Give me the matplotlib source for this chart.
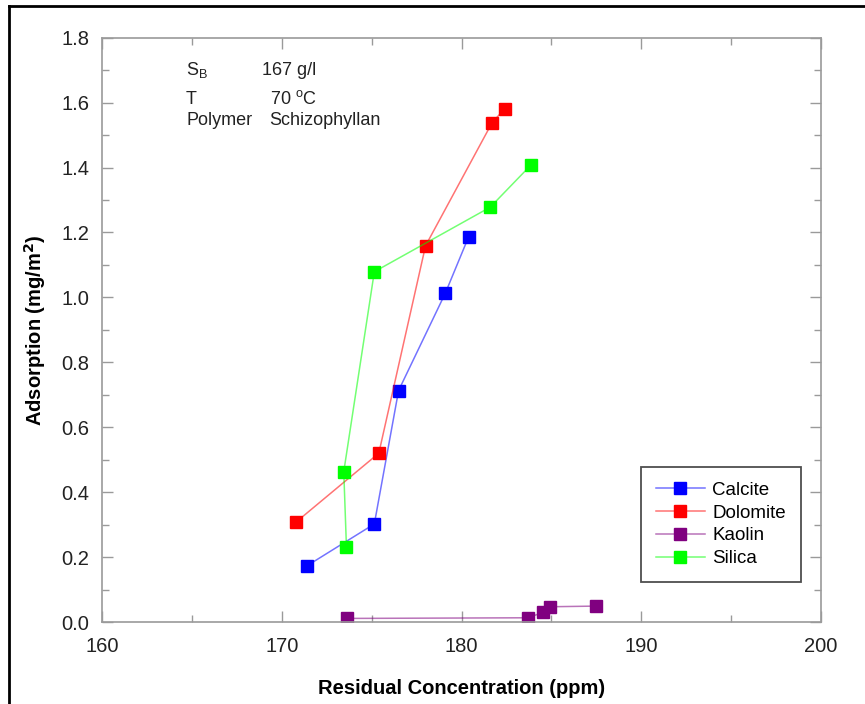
import matplotlib
matplotlib.use("Agg")
import matplotlib.pyplot as plt
from matplotlib.lines import Line2D
from matplotlib.ticker import MultipleLocator

plt.rcParams['font.family'] = ['Liberation Sans', 'DejaVu Sans']

# data (x: residual concentration ppm, y: adsorption mg/m2)
calcite_x = [171.4, 175.15, 176.5, 179.1, 180.4]
calcite_y = [0.173, 0.302, 0.713, 1.013, 1.187]

dolomite_x = [170.8, 175.4, 178.0, 181.7, 182.4]
dolomite_y = [0.308, 0.520, 1.159, 1.538, 1.581]

kaolin_x = [173.65, 183.7, 184.55, 184.95, 187.5]
kaolin_y = [0.011, 0.013, 0.030, 0.047, 0.049]

silica_x = [173.6, 173.45, 175.15, 181.6, 183.85]
silica_y = [0.230, 0.463, 1.079, 1.278, 1.407]

series = [
    ("Calcite", calcite_x, calcite_y, (0, 0, 1)),
    ("Dolomite", dolomite_x, dolomite_y, (1, 0, 0)),
    ("Kaolin", kaolin_x, kaolin_y, (0.5, 0, 0.5)),
    ("Silica", silica_x, silica_y, (0, 1, 0)),
]

fig = plt.figure(figsize=(8.65, 7.04), dpi=100)
ax = fig.add_axes([102/865, 1 - 622/704, 719/865, 584.3/704])

for name, xs, ys, c in series:
    ax.plot(xs, ys, color=c + (0.55,), lw=1.1, marker='s', markersize=8.5,
            markerfacecolor=c, markeredgecolor=c, label=name)

ax.set_xlim(160, 200)
ax.set_ylim(0, 1.8)
ax.xaxis.set_major_locator(MultipleLocator(10))
ax.xaxis.set_minor_locator(MultipleLocator(5))
ax.yaxis.set_major_locator(MultipleLocator(0.2))
ax.yaxis.set_minor_locator(MultipleLocator(0.1))
ax.yaxis.set_major_formatter(matplotlib.ticker.FormatStrFormatter('%.1f'))

gray = '#9a9a9a'
for s in ax.spines.values():
    s.set_color(gray)
    s.set_linewidth(1.2)
ax.tick_params(which='both', direction='in', top=True, right=True, color=gray,
               labelcolor='#222222', labelsize=14.5)
ax.tick_params(axis='y', which='major', length=8, width=1, pad=9)
ax.tick_params(axis='x', which='major', length=8, width=1, pad=11)
ax.tick_params(which='minor', length=5, width=1)

ax.set_xlabel('Residual Concentration (ppm)', fontsize=14.5, fontweight='bold', labelpad=16)
ax.set_ylabel('Adsorption (mg/m$^\\mathbf{2}$)', fontsize=14.5, fontweight='bold', labelpad=10)

# annotation block
tk = dict(transform=ax.transAxes, fontsize=13, color='#222222', va='baseline')
ax.text(0.117, 0.936, 'S$_\\mathregular{B}$', **tk)
ax.text(0.223, 0.936, '167 g/l', **tk)
ax.text(0.117, 0.886, 'T', **tk)
ax.text(0.234, 0.886, '70 $^\\mathregular{o}$C', **tk)
ax.text(0.117, 0.850, 'Polymer', **tk)
ax.text(0.233, 0.850, 'Schizophyllan', **tk)

leg = ax.legend(loc='lower right', bbox_to_anchor=(0.985, 0.052), fontsize=13.5,
                frameon=True, fancybox=False, handlelength=2.6, handletextpad=0.4,
                borderpad=0.8, labelspacing=0.3)
leg.get_frame().set_edgecolor('#222222')
leg.get_frame().set_linewidth(1.3)

# outer frame (left and top edges visible)
fig.add_artist(Line2D([9/865, 9/865], [0, 1 - 5.5/704], transform=fig.transFigure,
                      color='black', lw=2))
fig.add_artist(Line2D([9/865, 1], [1 - 5.5/704, 1 - 5.5/704], transform=fig.transFigure,
                      color='black', lw=2))

fig.savefig('out.png', dpi=100)
